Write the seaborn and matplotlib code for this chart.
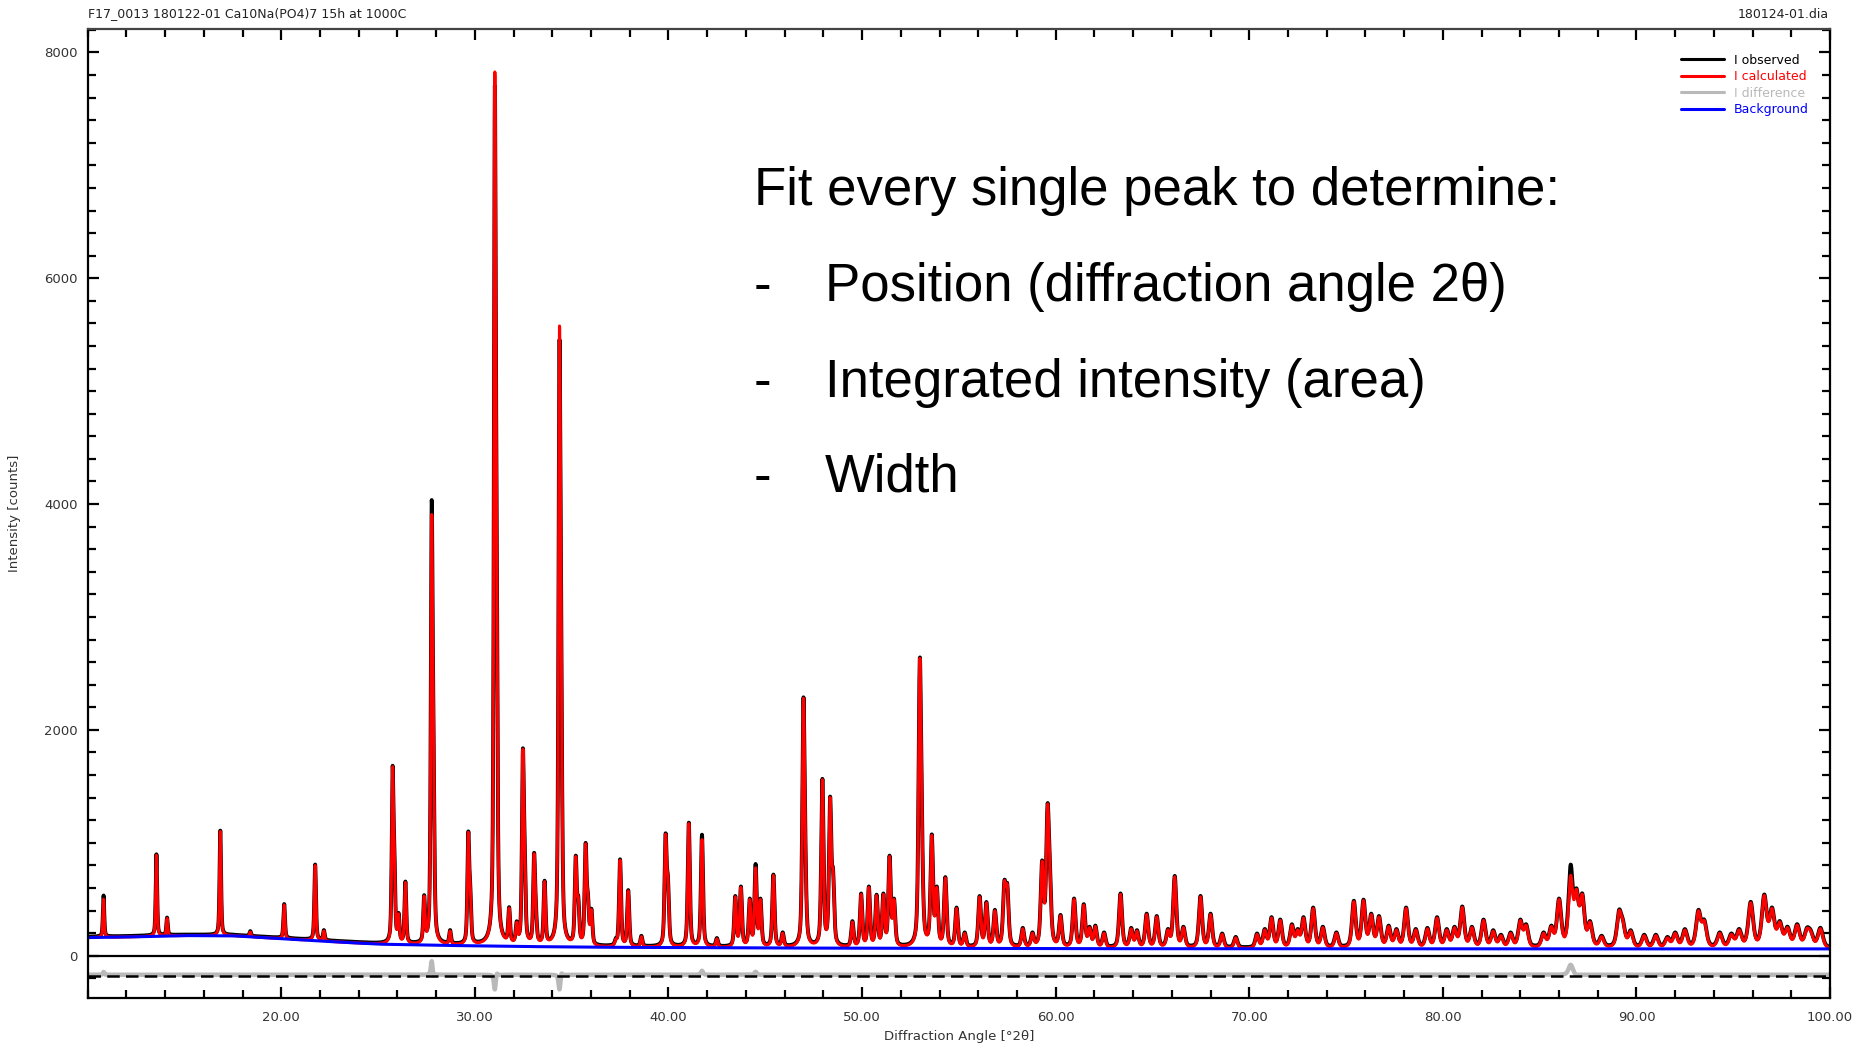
import numpy as np
import pandas as pd
import matplotlib
matplotlib.use("Agg")
import matplotlib.pyplot as plt
from matplotlib.lines import Line2D
from matplotlib.ticker import MultipleLocator, FormatStrFormatter
import seaborn as sns

# ---------------- data ----------------
# peak positions (deg 2theta) and calculated peak-top intensities (counts)
peak_pos = [10.82, 13.55, 14.10, 16.85, 18.40, 20.15, 21.75, 22.20,
            25.75, 25.84, 26.06, 26.41, 27.38, 27.77, 27.86, 28.72,
            29.66, 29.76, 31.03, 31.12, 31.77, 32.16, 32.48, 32.57,
            33.06, 33.15, 33.60, 34.37, 34.46, 35.21, 35.34, 35.72,
            35.84, 36.02, 37.28, 37.50, 37.92, 38.60, 39.85, 39.97,
            41.05, 41.73, 42.50, 43.45, 43.74, 44.20, 44.50, 44.75,
            45.42, 45.90, 46.97, 47.06, 47.95, 48.35, 48.50, 49.50,
            49.95, 50.35, 50.75, 51.10, 51.42, 51.65, 52.98, 53.08,
            53.60, 53.86, 54.30, 54.88, 55.30, 56.07, 56.42, 56.86,
            57.35, 57.50, 58.30, 58.80, 59.30, 59.58, 59.70, 60.25,
            60.95, 61.45, 61.75, 62.05, 62.50, 63.35, 63.90, 64.20,
            64.70, 65.22, 65.80, 66.15, 66.60, 67.48, 68.00, 68.60,
            69.30, 70.40, 70.80, 71.15, 71.60, 72.20, 72.50, 72.80,
            73.30, 73.80, 74.50, 75.40, 75.90, 76.30, 76.70, 77.20,
            77.60, 78.10, 78.60, 79.20, 79.70, 80.20, 80.60, 81.00,
            81.50, 82.10, 82.60, 83.00, 83.50, 84.00, 84.30, 85.20,
            85.60, 86.00, 86.60, 86.90, 87.20, 87.60, 88.20, 89.10,
            89.30, 89.70, 90.40, 91.00, 91.60, 92.00, 92.50, 93.20,
            93.50, 94.30, 94.90, 95.30, 95.90, 96.60, 97.00, 97.40,
            97.80, 98.30, 98.80, 99.00, 99.50]
peak_calc = [500, 890, 330, 1100, 210, 450, 800, 220,
             1675, 980, 372, 650, 530, 3910, 2185, 220,
             1094, 626, 7830, 4050, 423, 298, 1830, 1026,
             904, 470, 657, 5580, 2950, 880, 520, 993,
             545, 410, 150, 848, 575, 170, 1078, 700,
             1172, 1030, 150, 523, 607, 500, 780, 500,
             712, 200, 2282, 1215, 1560, 1403, 764, 300,
             545, 607, 534, 545, 880, 500, 2630, 1475,
             1068, 607, 690, 420, 200, 523, 470, 400,
             660, 630, 240, 200, 838, 1340, 816, 355,
             500, 450, 250, 260, 200, 545, 240, 220,
             366, 345, 230, 700, 250, 523, 366, 190,
             160, 190, 230, 335, 314, 272, 230, 335,
             420, 250, 200, 480, 490, 366, 345, 260,
             230, 420, 230, 240, 335, 230, 250, 430,
             250, 314, 220, 180, 200, 314, 272, 200,
             260, 500, 712, 590, 545, 300, 170, 400,
             314, 220, 180, 180, 160, 200, 230, 400,
             314, 200, 190, 230, 470, 535, 420, 300,
             250, 272, 240, 220, 240]
# peaks where the observed intensity differs from the calculated one
obs_pos = [10.82, 27.77, 31.03, 34.37, 41.73, 44.50, 86.60]
obs_peak = [525, 4030, 7700, 5450, 1065, 806, 800]

# refined background (blue)
bg_angle = [10, 12, 15, 17.5, 20, 22.5, 25, 28, 32, 36, 45, 60, 80, 100]
bg_counts = [160, 165, 178, 176, 150, 125, 102, 92, 82, 75, 68, 62, 60, 60]

# instrumental peak width (FWHM, deg) vs angle
fwhm_angle = [10, 50, 100]
fwhm_deg = [0.08, 0.14, 0.30]

diff_offset = -177
x_major = [20, 30, 40, 50, 60, 70, 80, 90, 100]
y_major = [0, 2000, 4000, 6000, 8000]
series_names = ["I observed", "I calculated", "I difference", "Background"]
series_colors = ["#000000", "#ff0000", "#b9b9b9", "#0000ff"]

# ---------------- build profiles ----------------
angle = np.round(np.arange(10.0, 100.0001, 0.01), 3)
bg = np.interp(angle, bg_angle, bg_counts)
pos = np.array(peak_pos)
hw = np.interp(pos, fwhm_angle, fwhm_deg) / 2.0


def shape(x, p, h):
    t = (x - p) / h
    return 0.5 / (1.0 + t * t) + 0.5 * np.exp(-np.log(2) * t * t)


def fit_amplitudes(tops):
    target = np.array(tops, float) - np.interp(pos, bg_angle, bg_counts)
    S = np.array([[shape(pi, pj, hj) for pj, hj in zip(pos, hw)] for pi in pos])
    a = np.clip(target, 0, None)
    for _ in range(300):
        a = np.clip(a + 0.5 * (target - S @ a), 0, None)
    return a


def profile(tops):
    a = fit_amplitudes(tops)
    y = bg.copy()
    for p, h, ai in zip(pos, hw, a):
        m = np.abs(angle - p) < 3.0
        y[m] += ai * shape(angle[m], p, h)
    return y


calc = profile(peak_calc)
obs_tops = list(peak_calc)
for p, v in zip(obs_pos, obs_peak):
    obs_tops[peak_pos.index(p)] = v
obs = profile(obs_tops) + 8
diff = obs - calc + diff_offset

df = pd.DataFrame({"angle": angle, "obs": obs, "calc": calc,
                   "bg": bg, "diff": diff})

# ---------------- figure ----------------
sns.set_theme(style="white")
plt.rcParams["font.family"] = ["DejaVu Sans"]
fig = plt.figure(figsize=(18.54, 10.47), dpi=100)
ax = fig.add_axes([0.0473, 0.0468, 0.9398, 0.9252])

lw = 2.2
sns.lineplot(data=df, x="angle", y="obs", ax=ax, color=series_colors[0],
             lw=lw + 0.6, estimator=None, sort=False)
sns.lineplot(data=df, x="angle", y="calc", ax=ax, color=series_colors[1],
             lw=lw, estimator=None, sort=False)
sns.lineplot(data=df, x="angle", y="diff", ax=ax, color=series_colors[2],
             lw=3.2, estimator=None, sort=False)
sns.lineplot(data=df, x="angle", y="bg", ax=ax, color=series_colors[3],
             lw=lw, estimator=None, sort=False)
ax.axhline(0, color="black", lw=1.6, zorder=5)
ax.axhline(diff_offset, color="black", lw=1.8, ls=(0, (5, 2.5)), zorder=5)

ax.set_xlim(10, 100)
ax.set_ylim(-375, 8205)
ax.xaxis.set_major_locator(plt.FixedLocator(x_major))
ax.xaxis.set_minor_locator(MultipleLocator(2))
ax.xaxis.set_major_formatter(FormatStrFormatter("%.2f"))
ax.yaxis.set_major_locator(plt.FixedLocator(y_major))
ax.yaxis.set_minor_locator(MultipleLocator(200))
ax.tick_params(which="both", direction="in", top=True, right=True,
               bottom=True, left=True, color="black", width=1.6)
ax.tick_params(which="major", length=8)
ax.tick_params(which="minor", length=5.5)
ax.tick_params(axis="x", which="major", labelsize=9.5, labelcolor="#333333", pad=9)
ax.tick_params(axis="y", which="major", labelsize=9.5, labelcolor="#333333", pad=7)
for s in ax.spines.values():
    s.set_color("black")
    s.set_linewidth(1.6)
ax.spines["top"].set_color("#444444")

ax.set_xlabel("Diffraction Angle [°2θ]", fontsize=9.5, color="#333333")
ax.set_ylabel("Intensity [counts]", fontsize=9.5, color="#333333")
ax.xaxis.set_label_coords(0.5, -0.033)
ax.yaxis.set_label_coords(-0.0385, 0.5)

handles = [Line2D([], [], color=c, lw=2.2) for c in series_colors]
ax.legend(handles, series_names, loc="upper left",
          bbox_to_anchor=(0.9145, 0.975), frameon=False, fontsize=9,
          labelcolor="linecolor", handlelength=3.4, handletextpad=0.8,
          labelspacing=0.28, borderpad=0, borderaxespad=0)

fig.text(88 / 1854, 1 - 14 / 1047, "F17_0013 180122-01 Ca10Na(PO4)7 15h at 1000C",
         fontsize=9, color="#222222", ha="left", va="center")
fig.text(1829 / 1854, 1 - 14 / 1047, "180124-01.dia",
         fontsize=9, color="#222222", ha="right", va="center")

big = dict(fontsize=38, color="black", family=["Liberation Sans", "DejaVu Sans"],
           va="baseline")
fig.text(754 / 1854, 1 - 205 / 1047, "Fit every single peak to determine:", **big)
bullets = ["Position (diffraction angle 2θ)", "Integrated intensity (area)", "Width"]
for yb, t in zip([301, 397, 492], bullets):
    fig.text(754 / 1854, 1 - yb / 1047, "-", **big)
    fig.text(825 / 1854, 1 - yb / 1047, t, **big)

fig.savefig("out.png", dpi=100)
